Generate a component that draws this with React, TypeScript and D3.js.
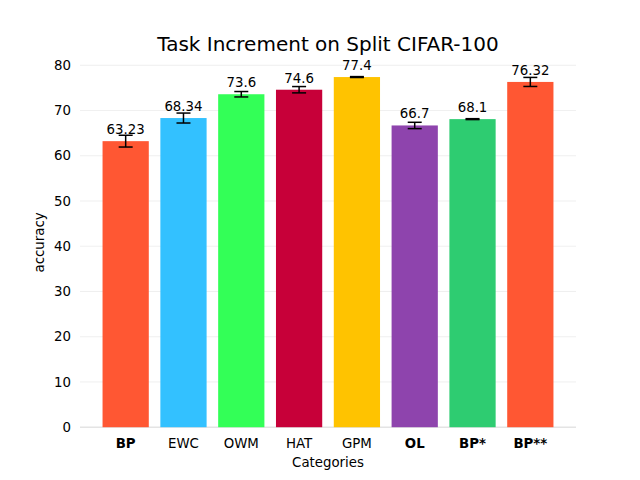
import React, { useRef, useEffect } from 'react';
import * as d3 from 'd3';

const categories = ['BP', 'EWC', 'OWM', 'HAT', 'GPM', 'OL', 'BP*', 'BP**'];
const accuracy = [63.23, 68.34, 73.6, 74.6, 77.4, 66.7, 68.1, 76.32];
const errors = [1.3, 1.1, 0.6, 0.7, 0.1, 0.7, 0.1, 1.0];
const colors = ['#FF5733', '#33C1FF', '#33FF57', '#C70039', '#FFC300', '#8E44AD', '#2ECC71', '#FF5733'];
const boldLabels = ['BP', 'OL', 'BP*', 'BP**'];
const yTicks = [0, 10, 20, 30, 40, 50, 60, 70, 80];

const width = 640;
const height = 480;
const margin = { top: 57.6, right: 64, bottom: 52.8, left: 80 };
const font = 'DejaVu Sans, sans-serif';

const App = () => {
  const svgRef = useRef<SVGSVGElement>(null);

  useEffect(() => {
    if (!svgRef.current) return;
    d3.select(svgRef.current).selectAll('*').remove();

    const innerWidth = width - margin.left - margin.right;
    const innerHeight = height - margin.top - margin.bottom;

    const svg = d3.select(svgRef.current)
      .attr('width', width)
      .attr('height', height)
      .style('display', 'block')
      .append('g')
      .attr('transform', `translate(${margin.left},${margin.top})`);

    // index-based x scale, like matplotlib's bar positions with margins
    const x = d3.scaleLinear().domain([-0.79, 7.79]).range([0, innerWidth]);
    const y = d3.scaleLinear().domain([0, 81.7]).range([innerHeight, 0]);
    const barW = x(0.8) - x(0);

    // grid lines
    svg.append('g')
      .selectAll('line')
      .data(yTicks)
      .enter()
      .append('line')
      .attr('x1', 0)
      .attr('x2', innerWidth)
      .attr('y1', d => y(d))
      .attr('y2', d => y(d))
      .attr('stroke', '#ebebeb')
      .attr('stroke-width', 0.8);

    // bottom spine
    svg.append('line')
      .attr('x1', 0).attr('x2', innerWidth)
      .attr('y1', innerHeight).attr('y2', innerHeight)
      .attr('stroke', '#dddddd')
      .attr('stroke-width', 1);

    // y tick labels
    svg.append('g')
      .selectAll('text')
      .data(yTicks)
      .enter()
      .append('text')
      .attr('x', -9)
      .attr('y', d => y(d))
      .attr('dy', '0.35em')
      .attr('text-anchor', 'end')
      .attr('font-family', font)
      .attr('font-size', '13.33px')
      .attr('fill', '#000')
      .text(d => d);

    // bars
    svg.selectAll('.bar')
      .data(accuracy)
      .enter()
      .append('rect')
      .attr('class', 'bar')
      .attr('x', (d, i) => x(i) - barW / 2)
      .attr('y', d => y(d))
      .attr('width', barW)
      .attr('height', d => innerHeight - y(d))
      .attr('fill', (d, i) => colors[i]);

    // error bars
    const cap = 7;
    const err = svg.append('g')
      .selectAll('g')
      .data(accuracy)
      .enter()
      .append('g')
      .attr('stroke', '#000')
      .attr('stroke-width', 1.5);
    err.append('line')
      .attr('x1', (d, i) => x(i)).attr('x2', (d, i) => x(i))
      .attr('y1', (d, i) => y(d - errors[i]))
      .attr('y2', (d, i) => y(d + errors[i]));
    err.append('line')
      .attr('x1', (d, i) => x(i) - cap).attr('x2', (d, i) => x(i) + cap)
      .attr('y1', (d, i) => y(d - errors[i]))
      .attr('y2', (d, i) => y(d - errors[i]));
    err.append('line')
      .attr('x1', (d, i) => x(i) - cap).attr('x2', (d, i) => x(i) + cap)
      .attr('y1', (d, i) => y(d + errors[i]))
      .attr('y2', (d, i) => y(d + errors[i]));

    // value labels
    svg.append('g')
      .selectAll('text')
      .data(accuracy)
      .enter()
      .append('text')
      .attr('x', (d, i) => x(i))
      .attr('y', d => y(d + 1) - 2.5)
      .attr('text-anchor', 'middle')
      .attr('font-family', font)
      .attr('font-size', '13.33px')
      .attr('fill', '#000')
      .text(d => d);

    // category labels
    svg.append('g')
      .selectAll('text')
      .data(categories)
      .enter()
      .append('text')
      .attr('x', (d, i) => x(i))
      .attr('y', innerHeight + 21)
      .attr('text-anchor', 'middle')
      .attr('font-family', font)
      .attr('font-size', '13.33px')
      .attr('font-weight', d => (boldLabels.includes(d) ? 'bold' : 'normal'))
      .attr('fill', '#000')
      .text(d => d);

    // axis titles
    svg.append('text')
      .attr('x', innerWidth / 2)
      .attr('y', innerHeight + 40)
      .attr('text-anchor', 'middle')
      .attr('font-family', font)
      .attr('font-size', '13.33px')
      .text('Categories');

    svg.append('text')
      .attr('transform', `translate(${-36},${innerHeight / 2}) rotate(-90)`)
      .attr('text-anchor', 'middle')
      .attr('font-family', font)
      .attr('font-size', '13.33px')
      .text('accuracy');

    svg.append('text')
      .attr('x', innerWidth / 2)
      .attr('y', -7)
      .attr('text-anchor', 'middle')
      .attr('font-family', font)
      .attr('font-size', '20px')
      .text('Task Increment on Split CIFAR-100');
  }, []);

  return <svg ref={svgRef} style={{ position: 'absolute', left: 0, top: 0 }}></svg>;
};

export default App;
